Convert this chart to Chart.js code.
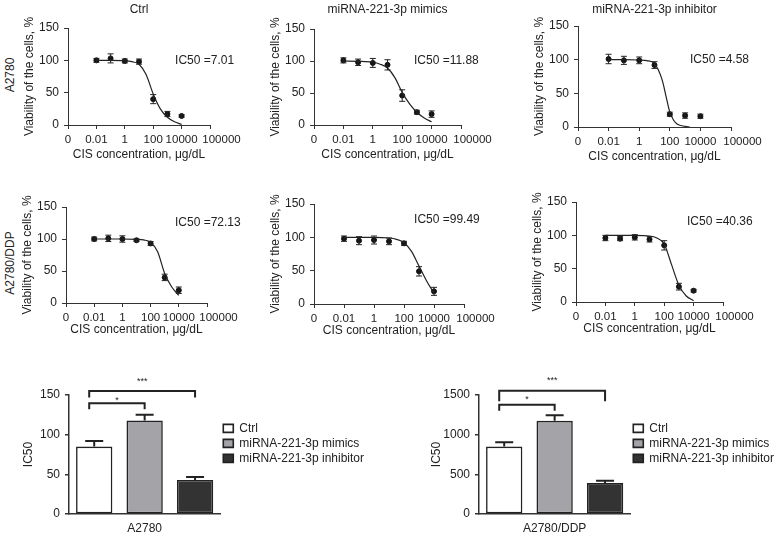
<!DOCTYPE html>
<html>
<head>
<meta charset="utf-8">
<script src="https://cdn.jsdelivr.net/npm/chart.js@4.4.1/dist/chart.umd.min.js"></script>
<style>
  body { margin: 0; background: #fff; width: 777px; height: 538px; position: relative; overflow: hidden;
         font-family: "Liberation Sans", Arial, sans-serif; }
  canvas { position: absolute; }
  .rowlab { position: absolute; font-size: 12px; color: #222; white-space: nowrap;
            transform: translate(-50%, -50%) rotate(-90deg); }
</style>
</head>
<body>
<div class="rowlab" style="left:10px; top:75px;">A2780</div>
<div class="rowlab" style="left:10px; top:263px;">A2780/DDP</div>
<script>
Chart.defaults.font.family = "'Liberation Sans', Arial, sans-serif";
Chart.defaults.font.size = 12;
Chart.defaults.color = '#222';

// 顺铂浓度 μg/dL，横轴按 log10 画
const concentrations = [0.01, 0.1, 1, 10, 100, 1000, 10000];
const xTickValues = [-4, -2, 0, 2, 4, 6];
const xTickLabels = ['0', '0.01', '1', '100', '10000', '100000'];
const viabilityTicks = [0, 50, 100, 150];

// A2780
const a2780CtrlMean = [100, 103, 99, 98, 40, 17, 14];
const a2780CtrlSd   = [3, 7, 3, 4, 7, 4, 2];
const a2780CtrlFitX = [-2, -1, 0, 0.5, 1, 1.5, 2, 2.5, 3, 3.5, 4];
const a2780CtrlFitY = [100, 100, 99.5, 98, 94, 78, 48, 25, 12, 5, 1];

const a2780MimicMean = [101, 98, 97, 94, 46, 20, 17];
const a2780MimicSd   = [4, 5, 7, 8, 9, 3, 5];
const a2780MimicFitX = [-2, -1, 0, 0.5, 1, 1.5, 2, 2.5, 3, 3.5, 4];
const a2780MimicFitY = [100, 99.5, 98, 95, 89, 74, 51, 33, 20, 11, 5];

const a2780InhibMean = [101, 99, 99, 92, 19, 17, 16];
const a2780InhibSd   = [7, 6, 5, 5, 3, 4, 3];
const a2780InhibFitX = [-2, -1, 0, 0.5, 1, 1.5, 1.75, 2, 2.25, 2.5, 3, 3.3];
const a2780InhibFitY = [100, 100, 99.5, 98.5, 94, 70, 46, 22, 10, 4, 1, 0];

// A2780/DDP
const ddpCtrlMean = [100, 101, 100, 98, 93, 40, 20];
const ddpCtrlSd   = [3, 5, 5, 2, 3, 5, 5];
const ddpCtrlFitX = [-2, -1, 0, 1, 1.5, 2, 2.5, 3, 3.5, 4];
const ddpCtrlFitY = [100, 100, 100, 99.5, 98.5, 95, 80, 46, 25, 12];

const ddpMimicMean = [98, 95, 96, 94, 91, 49, 19];
const ddpMimicSd   = [4, 6, 6, 5, 3, 7, 6];
const ddpMimicFitX = [-2, -1, 0, 1, 1.5, 2, 2.5, 3, 3.5, 4];
const ddpMimicFitY = [100, 100, 100, 99, 97, 92, 79, 57, 35, 16];

const ddpInhibMean = [96, 95, 97, 94, 85, 23, 17];
const ddpInhibSd   = [4, 3, 4, 4, 7, 5, 2];
const ddpInhibFitX = [-2, -1, 0, 1, 1.5, 2, 2.5, 3, 3.5, 4];
const ddpInhibFitY = [100, 100, 100, 99, 96, 87, 56, 25, 9, 2];

// IC50 柱状图
const groups = ['Ctrl', 'miRNA-221-3p mimics', 'miRNA-221-3p inhibitor'];
const a2780Ic50    = [85, 118, 43];
const a2780Ic50Sd  = [7, 7, 3.5];
const a2780Ic50Ticks = [0, 50, 100, 150];
const ddpIc50      = [850, 1175, 390];
const ddpIc50Sd    = [55, 70, 30];
const ddpIc50Ticks = [0, 500, 1000, 1500];

const barFills = ['#ffffff', '#a4a4a8', '#333333'];

// ---------- plugins ----------
const errorBars = {
  id: 'errorBars',
  afterDatasetsDraw(chart, args, opts) {
    const ctx = chart.ctx, y = chart.scales.y;
    chart.data.datasets.forEach((ds, di) => {
      if (!ds.errs) return;
      const meta = chart.getDatasetMeta(di);
      ctx.save();
      ctx.strokeStyle = '#222';
      ctx.lineWidth = opts.width;
      meta.data.forEach((el, i) => {
        const v = typeof ds.data[i] === 'object' ? ds.data[i].y : ds.data[i];
        const hi = y.getPixelForValue(v + ds.errs[i]);
        const lo = opts.upOnly ? y.getPixelForValue(v) : y.getPixelForValue(v - ds.errs[i]);
        ctx.beginPath();
        ctx.moveTo(el.x, lo); ctx.lineTo(el.x, hi);
        ctx.moveTo(el.x - opts.cap, hi); ctx.lineTo(el.x + opts.cap, hi);
        if (!opts.upOnly) { ctx.moveTo(el.x - opts.cap, lo); ctx.lineTo(el.x + opts.cap, lo); }
        ctx.stroke();
      });
      ctx.restore();
    });
  }
};

const panelText = {
  id: 'panelText',
  afterDraw(chart, args, opts) {
    const {ctx, chartArea} = chart;
    ctx.save();
    ctx.fillStyle = '#222';
    ctx.font = "12px 'Liberation Sans', Arial, sans-serif";
    ctx.textBaseline = 'middle';
    if (opts.title) {
      ctx.textAlign = 'center';
      ctx.fillText(opts.title, (chartArea.left + chartArea.right) / 2, opts.titleY);
    }
    if (opts.ic50) {
      ctx.textAlign = 'left';
      ctx.fillText(opts.ic50, chart.scales.x.getPixelForValue(opts.ic50At[0]),
                   chart.scales.y.getPixelForValue(opts.ic50At[1]));
    }
    ctx.restore();
  }
};

const sigBrackets = {
  id: 'sigBrackets',
  afterDraw(chart, args, opts) {
    const ctx = chart.ctx, y = chart.scales.y;
    ctx.save();
    ctx.strokeStyle = '#222';
    ctx.fillStyle = '#222';
    ctx.lineWidth = 2;
    ctx.font = "9px 'Liberation Sans', Arial, sans-serif";
    ctx.textAlign = 'center';
    ctx.textBaseline = 'middle';
    opts.items.forEach(b => {
      const x1 = chart.getDatasetMeta(b.from).data[0].x - 5;
      const x2 = chart.getDatasetMeta(b.to).data[0].x;
      const yt = y.getPixelForValue(b.y), yd = y.getPixelForValue(b.drop);
      ctx.beginPath();
      ctx.moveTo(x1, yd); ctx.lineTo(x1, yt); ctx.lineTo(x2, yt); ctx.lineTo(x2, yd);
      ctx.stroke();
      ctx.fillText(b.label, (x1 + x2) / 2, y.getPixelForValue(b.textY));
    });
    ctx.restore();
  }
};

function addCanvas(left, top, w, h) {
  const c = document.createElement('canvas');
  c.width = w; c.height = h;
  c.style.left = left + 'px';
  c.style.top = top + 'px';
  document.body.appendChild(c);
  return c;
}

// 最后一个刻度标签在原图里偏右一点
function xTickText(v, i) {
  return i === xTickLabels.length - 1 ? '\u2002\u2002\u2002\u2002' + xTickLabels[i] : xTickLabels[i];
}

// ---------- 剂量反应曲线 ----------
function curveChart(p) {
  const canvas = addCanvas(p.left, p.top, p.w, p.h);
  new Chart(canvas, {
    type: 'scatter',
    data: {
      datasets: [
        {
          data: p.fitX.map((x, i) => ({x: x, y: p.fitY[i]})),
          showLine: true, cubicInterpolationMode: 'monotone',
          borderColor: '#222', borderWidth: 1.2, pointRadius: 0
        },
        {
          data: concentrations.map((c, i) => ({x: Math.log10(c), y: p.mean[i]})),
          errs: p.sd,
          backgroundColor: '#111', borderColor: '#111', pointRadius: 2.5
        }
      ]
    },
    options: {
      responsive: false, animation: false, events: [],
      layout: {padding: p.pad},
      plugins: {
        legend: {display: false}, tooltip: {enabled: false},
        errorBars: {cap: 3, width: 1},
        panelText: {title: p.title, titleY: 10, ic50: p.ic50, ic50At: p.ic50At}
      },
      scales: {
        x: {
          type: 'linear', min: -4, max: 6,
          afterBuildTicks: s => { s.ticks = xTickValues.map(v => ({value: v})); },
          afterFit: s => { s.height = 40; },
          ticks: {callback: xTickText, padding: 4, maxRotation: 0, autoSkip: false, font: {size: 11.5}},
          grid: {drawOnChartArea: false, tickLength: 4, color: '#333'},
          border: {display: true, color: '#333', width: 1},
          title: {display: true, text: 'CIS concentration, μg/dL', padding: {top: 0, bottom: p.xTitlePad}}
        },
        y: {
          min: 0, max: 150,
          afterBuildTicks: s => { s.ticks = viabilityTicks.map(v => ({value: v})); },
          afterFit: s => { s.width = 50; },
          ticks: {padding: 5},
          grid: {drawOnChartArea: false, tickLength: 4, color: '#333'},
          border: {display: true, color: '#333', width: 1},
          title: {display: true, text: 'Viability of the cells, %', padding: {top: 4, bottom: 0}}
        }
      }
    },
    plugins: [errorBars, panelText]
  });
}

// ---------- IC50 柱状图 ----------
function barChart(p) {
  const canvas = addCanvas(p.left, p.top, p.w, p.h);
  new Chart(canvas, {
    type: 'bar',
    data: {
      labels: [p.cell],
      datasets: groups.map((g, i) => ({
        label: g, data: [p.vals[i]], errs: [p.sd[i]],
        backgroundColor: barFills[i], borderColor: '#222', borderWidth: 1.6, borderSkipped: false
      }))
    },
    options: {
      responsive: false, animation: false, events: [],
      layout: {padding: p.pad},
      categoryPercentage: 1, barPercentage: 0.72,
      plugins: {
        tooltip: {enabled: false},
        legend: {
          position: 'right', align: 'start', maxWidth: 220,
          title: {display: true, text: ' ', padding: {top: 10, bottom: 0}},
          labels: {boxWidth: 10, boxHeight: 8, padding: 3, color: '#222'}
        },
        errorBars: {cap: 9, width: 2, upOnly: true},
        sigBrackets: {items: p.brackets}
      },
      scales: {
        x: {
          afterFit: s => { s.height = 24; },
          ticks: {padding: 7},
          grid: {display: false, drawTicks: false},
          border: {display: true, color: '#333', width: 1.5}
        },
        y: {
          min: 0, max: p.ticks[p.ticks.length - 1],
          afterBuildTicks: s => { s.ticks = p.ticks.map(v => ({value: v})); },
          afterFit: s => { s.width = p.yW; },
          ticks: {padding: 5, callback: v => String(v)},
          grid: {drawOnChartArea: false, tickLength: 4, color: '#333', lineWidth: 1.5},
          border: {display: true, color: '#333', width: 1.5},
          title: {display: true, text: 'IC50', padding: {top: 2, bottom: 0}}
        }
      }
    },
    plugins: [errorBars, sigBrackets]
  });
}

curveChart({left: 0, top: 0, w: 255, h: 172, pad: {left: 18, right: 45, top: 28, bottom: 7}, xTitlePad: 3,
  title: 'Ctrl', ic50: 'IC50 =7.01', ic50At: [3.54, 100],
  mean: a2780CtrlMean, sd: a2780CtrlSd, fitX: a2780CtrlFitX, fitY: a2780CtrlFitY});
curveChart({left: 255, top: 0, w: 255, h: 172, pad: {left: 9, right: 49, top: 29, bottom: 7}, xTitlePad: 3,
  title: 'miRNA-221-3p mimics', ic50: 'IC50 =11.88', ic50At: [2.8, 100],
  mean: a2780MimicMean, sd: a2780MimicSd, fitX: a2780MimicFitX, fitY: a2780MimicFitY});
curveChart({left: 510, top: 0, w: 267, h: 172, pad: {left: 18, right: 46, top: 26, bottom: 5}, xTitlePad: 3,
  title: 'miRNA-221-3p inhibitor', ic50: 'IC50 =4.58', ic50At: [3.32, 100],
  mean: a2780InhibMean, sd: a2780InhibSd, fitX: a2780InhibFitX, fitY: a2780InhibFitY});

curveChart({left: 0, top: 175, w: 255, h: 172, pad: {left: 16, right: 48, top: 32, bottom: 4}, xTitlePad: 6,
  ic50: 'IC50 =72.13', ic50At: [3.73, 126],
  mean: ddpCtrlMean, sd: ddpCtrlSd, fitX: ddpCtrlFitX, fitY: ddpCtrlFitY});
curveChart({left: 255, top: 175, w: 255, h: 172, pad: {left: 9, right: 46, top: 29, bottom: 3}, xTitlePad: 6,
  ic50: 'IC50 =99.49', ic50At: [2.67, 126],
  mean: ddpMimicMean, sd: ddpMimicSd, fitX: ddpMimicFitX, fitY: ddpMimicFitY});
curveChart({left: 510, top: 175, w: 267, h: 172, pad: {left: 16, right: 54, top: 27, bottom: 5}, xTitlePad: 6,
  ic50: 'IC50 =40.36', ic50At: [3.55, 121],
  mean: ddpInhibMean, sd: ddpInhibSd, fitX: ddpInhibFitX, fitY: ddpInhibFitY});

barChart({left: 0, top: 360, w: 390, h: 178, yW: 50, pad: {left: 19, right: 16, top: 35, bottom: 0},
  cell: 'A2780', vals: a2780Ic50, sd: a2780Ic50Sd, ticks: a2780Ic50Ticks,
  brackets: [
    {from: 0, to: 2, y: 155, drop: 147, label: '***', textY: 167},
    {from: 0, to: 1, y: 139.5, drop: 132, label: '*', textY: 143.6}
  ]});
barChart({left: 390, top: 360, w: 394, h: 178, yW: 52, pad: {left: 37, right: 0, top: 35, bottom: 0},
  cell: 'A2780/DDP', vals: ddpIc50, sd: ddpIc50Sd, ticks: ddpIc50Ticks,
  brackets: [
    {from: 0, to: 2, y: 1555, drop: 1420, label: '***', textY: 1684},
    {from: 0, to: 1, y: 1377, drop: 1300, label: '*', textY: 1443}
  ]});
</script>
</body>
</html>
